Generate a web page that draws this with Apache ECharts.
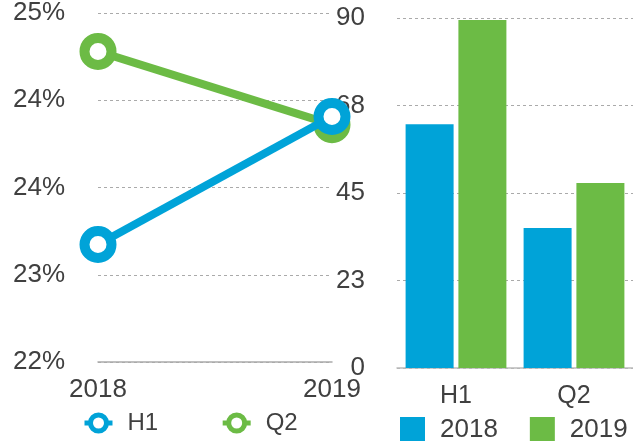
<!DOCTYPE html>
<html>
<head>
<meta charset="utf-8">
<script src="https://cdn.jsdelivr.net/npm/echarts@6/dist/echarts.min.js"></script>
<style>html,body{margin:0;padding:0;background:#fff}#c{width:633px;height:441px}</style>
</head>
<body>
<div id="c"></div>
<script>
var lineCategories = ['2018', '2019'];
var h1Values = [23.01, 24.11];
var q2Values = [24.67, 24.04];
var barCategories = ['H1', 'Q2'];
var bar2018 = [62.7, 36.0];
var bar2019 = [89.5, 47.6];

var BLUE = '#00A3D8';
var GREEN = '#6CBB45';
var TXT = '#404040';
var FONT = 'Liberation Sans';

var chart = echarts.init(document.getElementById('c'), null, {renderer: 'canvas'});
var gridLine = {show: true, lineStyle: {color: '#aaa', type: [3, 3], width: 1}};
chart.setOption({
  animation: false,
  textStyle: {fontFamily: FONT},
  grid: [
    {left: 98, right: 301, top: 13, bottom: 79},
    {left: 397, right: 0, top: 18, bottom: 73}
  ],
  xAxis: [
    {gridIndex: 0, type: 'category', data: lineCategories, boundaryGap: false,
     axisLine: {show: true, lineStyle: {color: '#aaa', width: 1.5}}, axisTick: {show: false},
     axisLabel: {color: TXT, fontSize: 26, margin: 15, fontFamily: FONT}},
    {gridIndex: 1, type: 'category', data: barCategories,
     axisLine: {show: true, lineStyle: {color: '#bbb', width: 1.5}}, axisTick: {show: false},
     axisLabel: {color: TXT, fontSize: 25, margin: 16, fontFamily: FONT}}
  ],
  yAxis: [
    {gridIndex: 0, type: 'value', min: 22, max: 25, interval: 0.75,
     axisLine: {show: false}, axisTick: {show: false}, splitLine: gridLine,
     axisLabel: {color: TXT, fontSize: 26, margin: 33, fontFamily: FONT,
       formatter: function (v) { return Math.round(v) + '%'; }}},
    {gridIndex: 1, type: 'value', min: 0, max: 90, interval: 22.5,
     axisLine: {show: false}, axisTick: {show: false}, splitLine: gridLine,
     axisLabel: {color: TXT, fontSize: 26, margin: 32, fontFamily: FONT,
       formatter: function (v) { return Math.round(v); }}}
  ],
  legend: [
    {data: ['H1', 'Q2'], left: 77, top: 406, itemWidth: 28, itemHeight: 20, itemGap: 62,
     itemStyle: {borderWidth: 5},
     lineStyle: {width: 5},
     textStyle: {color: TXT, fontSize: 24, fontFamily: FONT, padding: [0, 0, 0, 10]}},
    {data: ['2018', '2019'], left: 395, top: 412, itemWidth: 25, itemHeight: 26, itemGap: 32,
     icon: 'rect',
     textStyle: {color: TXT, fontSize: 26, fontFamily: FONT, padding: [0, 0, 0, 10]}}
  ],
  series: [
    {name: 'H1', type: 'line', xAxisIndex: 0, yAxisIndex: 0, data: h1Values, z: 4,
     symbol: 'circle', symbolSize: 27,
     lineStyle: {color: BLUE, width: 8},
     itemStyle: {color: '#fff', borderColor: BLUE, borderWidth: 10}},
    {name: 'Q2', type: 'line', xAxisIndex: 0, yAxisIndex: 0, data: q2Values, z: 3,
     symbol: 'circle', symbolSize: 27,
     lineStyle: {color: GREEN, width: 8},
     itemStyle: {color: '#fff', borderColor: GREEN, borderWidth: 10}},
    {name: '2018', type: 'bar', xAxisIndex: 1, yAxisIndex: 1, data: bar2018,
     barWidth: 48, barGap: '10%', itemStyle: {color: BLUE}},
    {name: '2019', type: 'bar', xAxisIndex: 1, yAxisIndex: 1, data: bar2019,
     barWidth: 48, barGap: '10%', itemStyle: {color: GREEN}}
  ]
});
</script>
</body>
</html>
